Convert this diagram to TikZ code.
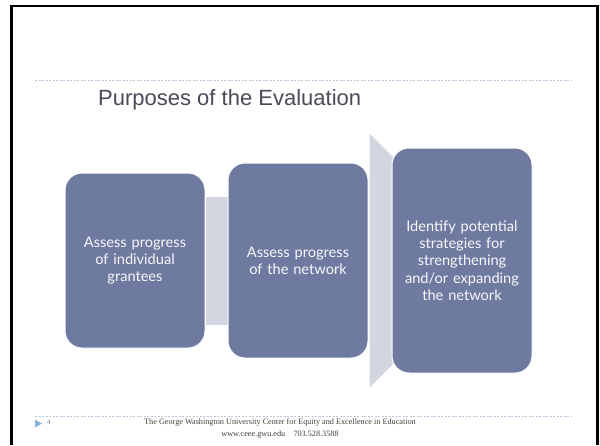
\documentclass[tikz,border=0pt]{standalone}
\usepackage{fontspec}
\setmainfont{Liberation Serif}
\newfontfamily\titlefont{Liberation Sans}
\newfontfamily\boxfont{Lato}
\usetikzlibrary{positioning,calc}
\pgfdeclarelayer{background}
\pgfsetlayers{background,main}
\definecolor{boxblue}{RGB}{111,122,160}
\definecolor{bargray}{RGB}{211,214,225}
\definecolor{titlegray}{RGB}{74,74,88}
\definecolor{dotblue}{RGB}{185,200,220}
\definecolor{markblue}{RGB}{140,178,210}

\begin{document}
\begin{tikzpicture}[x=1pt, y=-1pt,
  stepbox/.style={rectangle, rounded corners=17pt, fill=boxblue, draw=white, line width=1pt, minimum width=140pt, text width=132pt, align=center, text=white!95!boxblue, font=\boxfont\fontsize{14.6}{17.2}\selectfont, inner sep=0pt},
  linkbar/.style={fill=bargray},
  rule/.style={draw=dotblue, line width=0.8pt, dash pattern=on 2pt off 1.5pt},
  lbl/.style={inner sep=0pt}
]
\useasboundingbox (0,0) rectangle (600,445);
\draw[line width=2.5pt] (11.5,445) -- (11.5,6) -- (597.5,6) -- (597.5,445);

\coordinate (topl) at (35,80);
\coordinate (topr) at (572,80);
\coordinate (botl) at (35,416);
\coordinate (botr) at (572,416);
\draw[rule] (topl) -- (topr);
\draw[rule] (botl) -- (botr);

\node[lbl, anchor=west, text=titlegray, font=\titlefont\fontsize{22}{26}\selectfont] (title) at (98,100) {Purposes of the Evaluation};

\node[stepbox, minimum height=175pt] (grantees) at (135,260.5) {Assess progress\\ of individual\\ grantees};
\node[stepbox, minimum height=195pt] (network) at (298,260.5) {Assess progress\\ of the network};
\node[stepbox, minimum height=225pt] (strategies) at (462,260.5) {Identify potential\\ strategies for\\ strengthening\\ and/or expanding\\ the network};

\begin{pgfonlayer}{background}
\fill[linkbar] ($(grantees.east)+(0,-64)$) rectangle ($(network.west)+(0,64)$);
\fill[linkbar] ($(network.east)+(1,-127)$) -- ($(network.east)+(60,-68)$) -- ($(network.east)+(60,68)$) -- ($(network.east)+(1,127)$) -- cycle;
\end{pgfonlayer}

\fill[markblue] (35,419.5) -- (42,423.5) -- (35,427.5) -- cycle;
\node[lbl, anchor=west, text=gray, font=\fontsize{7}{8}\selectfont] (page) at (47,422.5) {4};
\node[lbl, text=black!75, font=\fontsize{8.2}{9}\selectfont] (center) at (280,422) {The George Washington University Center for Equity and Excellence in Education};
\node[lbl, text=black!75, font=\fontsize{8.2}{9}\selectfont] (web) at (280,434.5) {www.ceee.gwu.edu\quad 703.528.3588};

\end{tikzpicture}
\end{document}
